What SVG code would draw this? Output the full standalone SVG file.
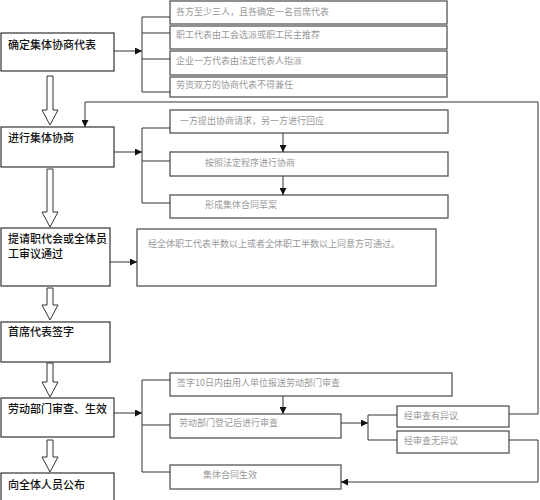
<svg xmlns="http://www.w3.org/2000/svg" width="540" height="500" viewBox="0 0 540 500">
<defs>
<marker id="ah" viewBox="0 0 10 10" refX="10" refY="5" markerWidth="7" markerHeight="7" markerUnits="userSpaceOnUse" orient="auto">
<path d="M0,0 L10,5 L0,10 Z" fill="#111"/>
</marker>
</defs>
<style>
.main rect{fill:#fff;stroke:#333;stroke-width:1.2}
.main text{font-family:"Noto Sans CJK SC","Liberation Serif",serif;font-size:11px;fill:#111;font-weight:500}
.sub rect{fill:#fff;stroke:#555;stroke-width:1.3}
.sub text{font-family:"Noto Sans CJK SC","Liberation Serif",serif;font-size:9px;fill:#999}
.hollow{fill:#fff;stroke:#444;stroke-width:1}
.conn path{fill:none;stroke:#333;stroke-width:1}
.conn .a{marker-end:url(#ah)}
</style>
<rect width="540" height="500" fill="#fff"/>

<g id="n1" class="main"><rect x="1" y="33" width="113" height="38"/><text x="8" y="49">确定集体协商代表</text></g>
<g id="n2" class="main"><rect x="1" y="127" width="113" height="40"/><text x="8" y="142">进行集体协商</text></g>
<g id="n3" class="main"><rect x="1" y="228" width="109" height="58"/><text x="8" y="243">提请职代会或全体员</text><text x="8" y="258">工审议通过</text></g>
<g id="n4" class="main"><rect x="1" y="322" width="109" height="40"/><text x="8" y="336">首席代表签字</text></g>
<g id="n5" class="main"><rect x="1" y="398" width="113" height="39"/><text x="8" y="413">劳动部门审查、生效</text></g>
<g id="n6" class="main"><rect x="1" y="473" width="113" height="40"/><text x="8" y="489">向全体人员公布</text></g>

<g id="s1a" class="sub"><rect x="170" y="1" width="277" height="23"/><text x="176" y="15">各方至少三人，且各确定一名首席代表</text></g>
<g id="s1b" class="sub"><rect x="170" y="26" width="277" height="23"/><text x="176" y="38">职工代表由工会选派或职工民主推荐</text></g>
<g id="s1c" class="sub"><rect x="170" y="51" width="277" height="24"/><text x="176" y="64">企业一方代表由法定代表人指派</text></g>
<g id="s1d" class="sub"><rect x="170" y="77" width="277" height="20"/><text x="176" y="88">劳资双方的协商代表不得兼任</text></g>

<g id="s2a" class="sub"><rect x="170" y="110" width="278" height="23"/><text x="180" y="124">一方提出协商请求，另一方进行回应</text></g>
<g id="s2b" class="sub"><rect x="170" y="152" width="278" height="24"/><text x="205" y="166">按照法定程序进行协商</text></g>
<g id="s2c" class="sub"><rect x="170" y="195" width="278" height="23"/><text x="205" y="208">形成集体合同草案</text></g>

<g id="s3" class="sub"><rect x="137" y="229" width="299" height="57"/><text x="148" y="247">经全体职工代表半数以上或者全体职工半数以上同意方可通过。</text></g>

<g id="s5a" class="sub"><rect x="170" y="373" width="282" height="23"/><text x="177" y="386">签字10日内由用人单位报送劳动部门审查</text></g>
<g id="s5b" class="sub"><rect x="170" y="414" width="171" height="24"/><text x="179" y="426">劳动部门登记后进行审查</text></g>
<g id="s5c" class="sub"><rect x="170" y="465" width="171" height="24"/><text x="203" y="478">集体合同生效</text></g>
<g id="s6a" class="sub"><rect x="397" y="406" width="112" height="21"/><text x="404" y="419">经审查有异议</text></g>
<g id="s6b" class="sub"><rect x="397" y="431" width="112" height="22"/><text x="404" y="444">经审查无异议</text></g>

<g id="connectors" class="conn">
<path class="hollow" d="M47,76 H53 V110 H58 L50,125 L42,110 H47 Z"/>
<path class="hollow" d="M47,169 H53 V212 H58 L50,227 L42,212 H47 Z"/>
<path class="hollow" d="M47,288 H53 V305 H58 L50,320 L42,305 H47 Z"/>
<path class="hollow" d="M47,363 H53 V382 H58 L50,397 L42,382 H47 Z"/>
<path class="hollow" d="M47,440 H53 V457 H58 L50,472 L42,457 H47 Z"/>

<path class="a" d="M114,51 H142"/>
<path d="M170,17 H142 V92 H170 M142,33 H170 M142,59 H170"/>

<path class="a" d="M114,152 H142"/>
<path d="M170,128 H142 V203 H170 M142,161 H170"/>
<path class="a" d="M283,133 V152"/>
<path class="a" d="M283,176 V195"/>

<path class="a" d="M110,262 H137"/>

<path class="a" d="M114,413 H142"/>
<path d="M170,380 H142 V472 H170 M142,425 H170"/>
<path class="a" d="M283,396 V414"/>

<path class="a" d="M341,423 H368"/>
<path d="M397,415 H368 V440 H397"/>

<path class="a" d="M509,414 H538 V102 H85 V127"/>
<path class="a" d="M509,440 H538 V482 H341"/>
</g>
</svg>
